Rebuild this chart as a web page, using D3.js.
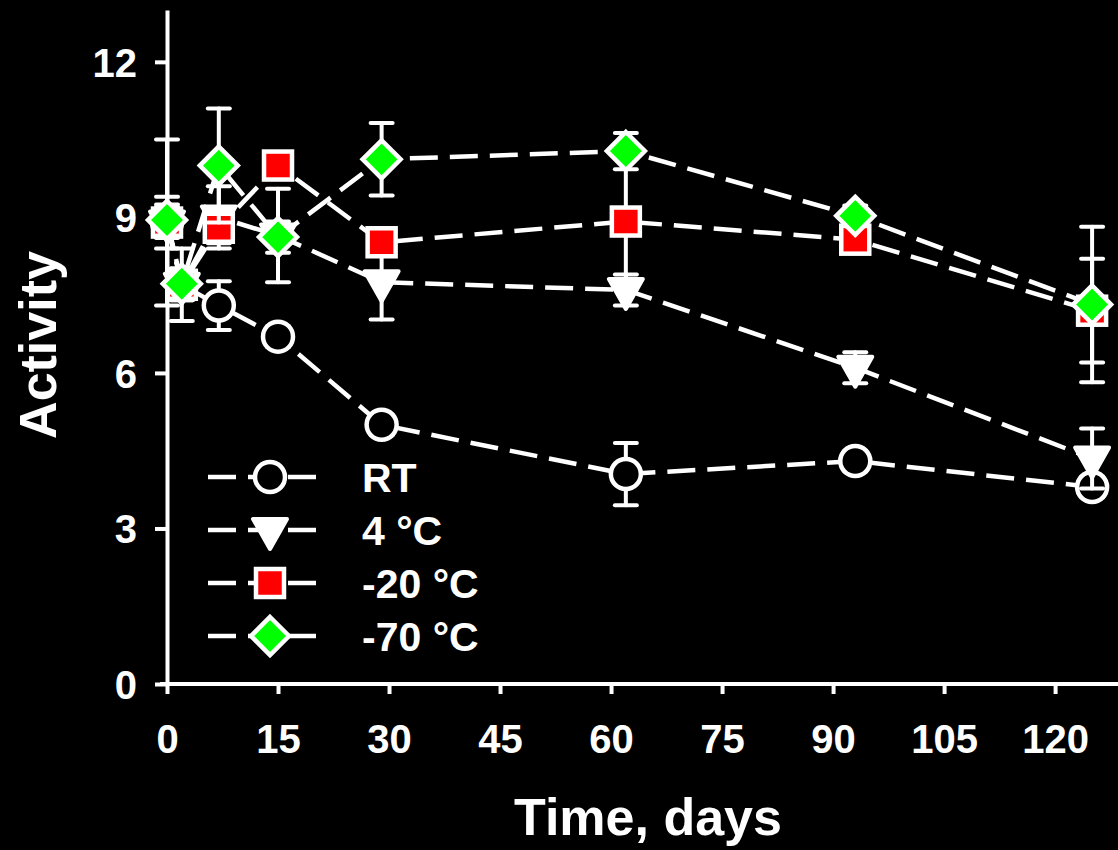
<!DOCTYPE html>
<html lang="en">
<head>
    <meta charset="UTF-8">
    <title>Activity vs time</title>
    <style>
        body {
            margin: 0;
            padding: 0;
            background: #000;
        }
        svg {
            display: block;
            font-family: "Liberation Sans", Arial, sans-serif;
            font-weight: bold;
        }
        .axis path, .axis line {
            stroke: #fff;
            stroke-width: 4px;
        }
        .axis text {
            fill: #fff;
            font-size: 40px;
            font-weight: bold;
        }
    </style>
</head>
<body>
    <div id="chart"></div>

    <script src="https://d3js.org/d3.v7.min.js"></script>
    <script>
        // days of sampling
        const days = [0, 2, 7, 15, 29, 62, 93, 125];

        // activity values per storage condition
        const rtValues = [8.9, 7.7, 7.3, 6.7, 5.0, 4.05, 4.3, 3.8];
        const rtErrors = [0.5, 0.7, 0.47, 0.2, 0.2, 0.6, 0.2, 0.2];

        const fourValues = [8.9, 7.7, 9.0, 8.65, 7.75, 7.6, 6.1, 4.35];
        const fourErrors = [1.6, 0.3, 0.6, 0.9, 0.72, 0.3, 0.3, 0.58];

        const minus20Values = [8.9, 7.7, 8.8, 10.0, 8.52, 8.92, 8.57, 7.2];
        const minus20Errors = [0.3, 0.3, 0.3, 0.2, 0.2, 1.3, 0.2, 1.0];

        const minus70Values = [8.95, 7.72, 10.0, 8.62, 10.12, 10.28, 9.03, 7.32];
        const minus70Errors = [0.3, 0.3, 1.1, 0.3, 0.7, 0.35, 0.2, 1.5];

        const seriesNames = ["RT", "4 °C", "-20 °C", "-70 °C"];
        const xTicks = [0, 15, 30, 45, 60, 75, 90, 105, 120];
        const yTicks = [0, 3, 6, 9, 12];

        const width = 1118;
        const height = 850;

        const svg = d3.select("#chart")
            .append("svg")
            .attr("width", width)
            .attr("height", height);

        svg.append("rect")
            .attr("width", width)
            .attr("height", height)
            .attr("fill", "#000");

        const x = d3.scaleLinear()
            .domain([0, 128.5])
            .range([167, 1118]);

        const y = d3.scaleLinear()
            .domain([0, 13])
            .range([684, 10]);

        // axes
        svg.append("g")
            .attr("class", "axis")
            .attr("transform", "translate(0,684)")
            .call(d3.axisBottom(x).tickValues(xTicks).tickSize(10).tickPadding(31).tickSizeOuter(0))
            .call(g => g.select(".domain").attr("d", "M160,0H1118"));

        svg.append("g")
            .attr("class", "axis")
            .attr("transform", "translate(167,0)")
            .call(d3.axisLeft(y).tickValues(yTicks).tickSize(12).tickPadding(18).tickSizeOuter(0))
            .call(g => g.selectAll("text").attr("dy", "0.36em"));

        // axis titles
        svg.append("text")
            .attr("x", 648)
            .attr("y", 835)
            .attr("text-anchor", "middle")
            .attr("fill", "#fff")
            .attr("font-size", 52)
            .text("Time, days");

        svg.append("text")
            .attr("transform", "translate(56,345) rotate(-90)")
            .attr("text-anchor", "middle")
            .attr("fill", "#fff")
            .attr("font-size", 52)
            .text("Activity");

        // marker shapes
        function drawMarker(g, kind) {
            if (kind === "circle") {
                g.append("circle").attr("r", 15)
                    .attr("fill", "#000").attr("stroke", "#fff").attr("stroke-width", 4.5);
            } else if (kind === "triangle") {
                g.append("path").attr("d", "M-17,-11L17,-11L0,19Z")
                    .attr("fill", "#fff").attr("stroke", "#fff").attr("stroke-width", 4)
                    .attr("stroke-linejoin", "round");
            } else if (kind === "square") {
                g.append("rect").attr("x", -14).attr("y", -14).attr("width", 28).attr("height", 28)
                    .attr("fill", "#ff0000").attr("stroke", "#fff").attr("stroke-width", 4.5);
            } else {
                g.append("path").attr("d", "M0,-19L19,0L0,19L-19,0Z")
                    .attr("fill", "#00ff00").attr("stroke", "#fff").attr("stroke-width", 4.5)
                    .attr("stroke-linejoin", "miter");
            }
        }

        const series = [
            { name: seriesNames[0], values: rtValues, errors: rtErrors, marker: "circle" },
            { name: seriesNames[1], values: fourValues, errors: fourErrors, marker: "triangle" },
            { name: seriesNames[2], values: minus20Values, errors: minus20Errors, marker: "square" },
            { name: seriesNames[3], values: minus70Values, errors: minus70Errors, marker: "diamond" }
        ];

        const line = d3.line()
            .x(d => x(d.day))
            .y(d => y(d.value));

        series.forEach(s => {
            const pts = days.map((d, i) => ({ day: d, value: s.values[i], err: s.errors[i] }));
            const g = svg.append("g");

            g.append("path")
                .datum(pts)
                .attr("d", line)
                .attr("fill", "none")
                .attr("stroke", "#fff")
                .attr("stroke-width", 4.5)
                .attr("stroke-dasharray", "28,12");

            const eb = g.selectAll(".err")
                .data(pts)
                .enter().append("g")
                .attr("stroke", "#fff")
                .attr("stroke-width", 4)
                .attr("stroke-linecap", "round");

            eb.append("line")
                .attr("x1", d => x(d.day)).attr("x2", d => x(d.day))
                .attr("y1", d => y(d.value + d.err)).attr("y2", d => y(d.value - d.err));
            eb.append("line")
                .attr("x1", d => x(d.day) - 11).attr("x2", d => x(d.day) + 11)
                .attr("y1", d => y(d.value + d.err)).attr("y2", d => y(d.value + d.err));
            eb.append("line")
                .attr("x1", d => x(d.day) - 11).attr("x2", d => x(d.day) + 11)
                .attr("y1", d => y(d.value - d.err)).attr("y2", d => y(d.value - d.err));

            g.selectAll(".mk")
                .data(pts)
                .enter().append("g")
                .attr("transform", d => "translate(" + x(d.day) + "," + y(d.value) + ")")
                .each(function() { drawMarker(d3.select(this), s.marker); });
        });

        // legend
        const legend = svg.append("g");
        series.forEach((s, i) => {
            const row = legend.append("g")
                .attr("transform", "translate(0," + (477 + i * 53) + ")");
            row.append("line")
                .attr("x1", 208).attr("x2", 318)
                .attr("stroke", "#fff").attr("stroke-width", 4.5)
                .attr("stroke-dasharray", "28,12");
            const m = row.append("g").attr("transform", "translate(270,0)");
            drawMarker(m, s.marker);
            row.append("text")
                .attr("x", 362)
                .attr("dy", "0.36em")
                .attr("fill", "#fff")
                .attr("font-size", 41)
                .text(s.name);
        });
    </script>
</body>
</html>
